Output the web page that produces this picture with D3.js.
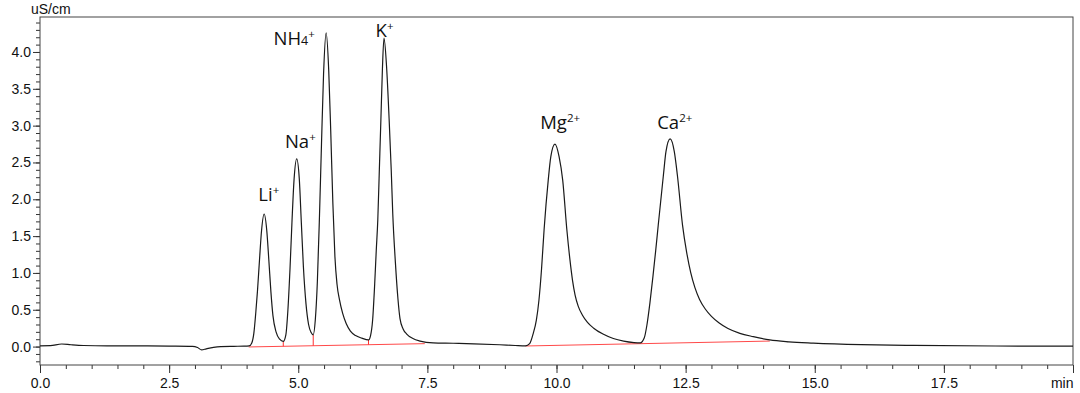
<!DOCTYPE html>
<html>
<head>
<meta charset="utf-8">
<script src="https://cdn.jsdelivr.net/npm/d3@7"></script>
<style>
  body { margin: 0; background: #fff; }
  svg { display: block; }
  .axis text { font-family: "Liberation Sans", Arial, sans-serif; font-size: 14px; fill: #111; }
  .axis path, .axis line { stroke: #333; }
  .peak-label { font-family: "Open Sans", "Noto Sans", sans-serif; font-size: 18.5px; fill: #111; }
</style>
</head>
<body>
<svg id="chart" width="1080" height="393"></svg>
<script>
// detector trace, [time (min), conductivity (uS/cm)]
const trace = [
  [0.00, 0.010], [0.20, 0.012], [0.42, 0.035], [0.60, 0.025], [0.84, 0.015], [1.30, 0.010],
  [1.81, 0.010], [2.50, 0.007], [2.95, 0.004], [3.05, -0.012], [3.13, -0.045], [3.22, -0.030],
  [3.36, -0.010], [3.50, 0.000], [3.75, 0.004], [3.95, 0.006], [4.05, 0.010],
  // Li+
  [4.10, 0.05], [4.14, 0.18], [4.18, 0.48], [4.21, 0.75], [4.25, 1.18], [4.29, 1.58], [4.34, 1.80],
  [4.39, 1.58], [4.43, 1.18], [4.47, 0.75], [4.51, 0.42], [4.57, 0.20], [4.64, 0.10], [4.71, 0.07],
  // Na+
  [4.76, 0.16], [4.80, 0.50], [4.84, 1.05], [4.88, 1.72], [4.92, 2.28], [4.97, 2.55], [5.02, 2.28],
  [5.06, 1.68], [5.10, 1.08], [5.15, 0.58], [5.20, 0.30], [5.25, 0.19], [5.29, 0.16],
  // NH4+
  [5.33, 0.36], [5.37, 0.88], [5.41, 1.75], [5.45, 2.75], [5.49, 3.70], [5.54, 4.26], [5.59, 3.75],
  [5.63, 2.90], [5.67, 1.95], [5.71, 1.22], [5.75, 0.85], [5.80, 0.63], [5.86, 0.45], [5.93, 0.31],
  [6.01, 0.21], [6.11, 0.15], [6.23, 0.115], [6.36, 0.09],
  // K+
  [6.40, 0.15], [6.44, 0.36], [6.48, 0.85], [6.51, 1.30], [6.54, 1.72], [6.57, 2.40], [6.60, 3.08],
  [6.63, 3.78], [6.66, 4.19], [6.71, 3.80], [6.76, 3.08], [6.80, 2.40], [6.83, 1.80], [6.88, 1.15],
  [6.93, 0.65], [6.97, 0.38], [7.03, 0.24], [7.10, 0.17], [7.22, 0.11], [7.36, 0.075], [7.61, 0.050],
  [8.00, 0.045], [8.40, 0.038], [8.90, 0.025], [9.20, 0.015], [9.40, 0.010],
  // Mg2+
  [9.48, 0.04], [9.55, 0.18], [9.61, 0.36], [9.66, 0.63], [9.71, 1.05], [9.76, 1.59], [9.84, 2.26],
  [9.89, 2.58], [9.97, 2.75], [10.05, 2.58], [10.12, 2.26], [10.20, 1.59], [10.26, 1.18], [10.31, 0.90],
  [10.36, 0.70], [10.42, 0.55], [10.50, 0.43], [10.60, 0.33], [10.72, 0.25], [10.90, 0.17], [11.10, 0.11],
  [11.30, 0.075], [11.50, 0.055], [11.62, 0.05],
  // Ca2+
  [11.70, 0.12], [11.75, 0.29], [11.81, 0.60], [11.87, 0.97], [11.92, 1.30], [11.97, 1.65], [12.07, 2.33],
  [12.12, 2.65], [12.20, 2.82], [12.28, 2.65], [12.34, 2.33], [12.44, 1.65], [12.52, 1.28], [12.60, 1.00],
  [12.68, 0.80], [12.77, 0.64], [12.88, 0.51], [13.00, 0.41], [13.15, 0.32], [13.32, 0.245], [13.55, 0.18],
  [13.81, 0.135], [14.13, 0.09], [14.50, 0.065], [14.97, 0.048], [15.90, 0.027], [16.91, 0.016],
  [18.50, 0.008], [20.00, 0.005]
];

// integration baselines (red) and peak split markers
const baselines = [
  [[4.04, -0.005], [7.45, 0.040]],
  [[9.40, 0.008], [14.13, 0.075]]
];
const dropLines = [
  { t: 4.71, top: 0.07, bottom: 0.004 },
  { t: 5.29, top: 0.16, bottom: 0.012 },
  { t: 6.36, top: 0.09, bottom: 0.026 }
];

// peak names: main text, subscript, superscript, label anchor (time, signal)
const peakLabels = [
  { main: 'Li', sub: '', sup: '+', t: 4.43, v: 1.98 },
  { main: 'Na', sub: '', sup: '+', t: 5.04, v: 2.69 },
  { main: 'NH', sub: '4', sup: '+', t: 4.92, v: 4.09 },
  { main: 'K', sub: '', sup: '+', t: 6.67, v: 4.20 },
  { main: 'Mg', sub: '', sup: '2+', t: 10.07, v: 2.95 },
  { main: 'Ca', sub: '', sup: '2+', t: 12.29, v: 2.95 }
];

const xMajor = [0, 2.5, 5, 7.5, 10, 12.5, 15, 17.5, 20];
const xMinor = d3.range(0, 20.01, 0.5);
const yMajor = [0, 0.5, 1, 1.5, 2, 2.5, 3, 3.5, 4];
const yMinor = d3.range(-2, 45).map(d => d / 10);
const yUnit = 'uS/cm';
const xUnit = 'min';

const margin = { top: 17, right: 7, bottom: 28, left: 40 };
const W = 1080, H = 393;
const width = W - margin.left - margin.right;
const height = H - margin.top - margin.bottom;

const svg = d3.select('#chart');
const g = svg.append('g').attr('transform', 'translate(' + margin.left + ',' + margin.top + ')');

const x = d3.scaleLinear().domain([0, 20]).range([0, width]);
const y = d3.scaleLinear().domain([-0.25, 4.475]).range([height, 0]);

// minor ticks first
g.append('g')
  .attr('class', 'axis')
  .call(d3.axisLeft(y).tickValues(yMinor).tickSize(4).tickFormat(''))
  .select('.domain').remove();
g.append('g')
  .attr('class', 'axis')
  .attr('transform', 'translate(0,' + height + ')')
  .call(d3.axisBottom(x).tickValues(xMinor).tickSize(4).tickFormat(''))
  .select('.domain').remove();

// major ticks
g.append('g')
  .attr('class', 'axis')
  .call(d3.axisLeft(y).tickValues(yMajor).tickSize(7).tickPadding(2).tickFormat(d3.format('.1f')))
  .select('.domain').remove();
const xAx = g.append('g')
  .attr('class', 'axis')
  .attr('transform', 'translate(0,' + height + ')')
  .call(d3.axisBottom(x).tickValues(xMajor).tickSize(8).tickPadding(5)
    .tickFormat(d => d === 20 ? xUnit : d3.format('.1f')(d)));
xAx.select('.domain').remove();
xAx.selectAll('.tick')
  .filter(d => d === 20)
  .select('text')
  .attr('text-anchor', 'end');

// frame
g.append('rect')
  .attr('x', 0).attr('y', 0)
  .attr('width', width).attr('height', height)
  .attr('fill', 'none')
  .attr('stroke', '#444')
  .attr('stroke-width', 1);

// unit label
g.append('text')
  .attr('x', -9)
  .attr('y', -3)
  .style('font-family', '"Liberation Sans", Arial, sans-serif')
  .style('font-size', '14px')
  .attr('fill', '#111')
  .text(yUnit);

// red baselines
const seg = d3.line().x(d => x(d[0])).y(d => y(d[1]));
g.append('g')
  .selectAll('path')
  .data(baselines)
  .enter()
  .append('path')
  .attr('d', seg)
  .attr('fill', 'none')
  .attr('stroke', '#ff4a4a')
  .attr('stroke-width', 1);

g.append('g')
  .selectAll('line')
  .data(dropLines)
  .enter()
  .append('line')
  .attr('x1', d => x(d.t)).attr('x2', d => x(d.t))
  .attr('y1', d => y(d.top)).attr('y2', d => y(d.bottom))
  .attr('stroke', '#ff3030')
  .attr('stroke-width', 1);

// chromatogram
const line = d3.line()
  .curve(d3.curveMonotoneX)
  .x(d => x(d[0]))
  .y(d => y(d[1]));

g.append('path')
  .datum(trace)
  .attr('d', line)
  .attr('fill', 'none')
  .attr('stroke', '#1a1a1a')
  .attr('stroke-width', 1.2);

// peak labels
const lbl = g.append('g')
  .selectAll('text')
  .data(peakLabels)
  .enter()
  .append('text')
  .attr('class', 'peak-label')
  .attr('x', d => x(d.t))
  .attr('y', d => y(d.v))
  .attr('text-anchor', 'middle');

lbl.append('tspan').text(d => d.main);
lbl.filter(d => d.sub)
  .append('tspan')
  .style('font-size', '12.5px')
  .text(d => d.sub);
lbl.append('tspan')
  .style('font-size', '11.5px')
  .attr('dy', -7)
  .text(d => d.sup);
</script>
</body>
</html>
